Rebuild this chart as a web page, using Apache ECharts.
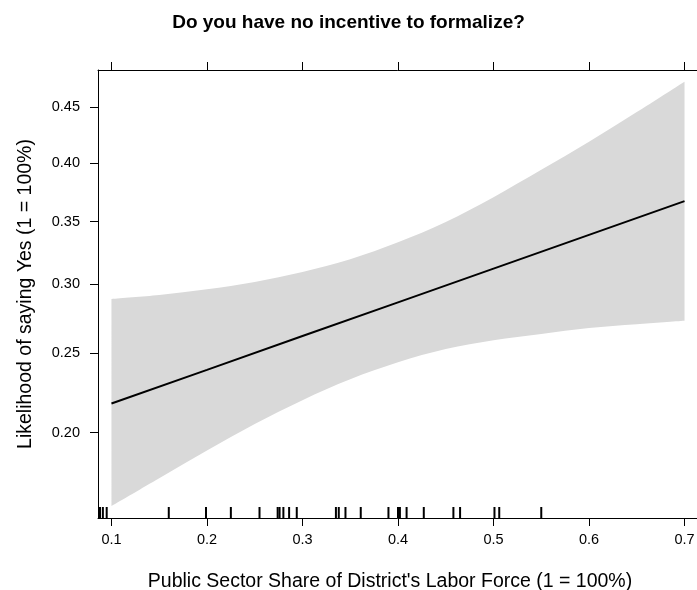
<!DOCTYPE html>
<html>
<head>
<meta charset="utf-8">
<script src="https://cdn.jsdelivr.net/npm/echarts@6/dist/echarts.min.js"></script>
<style>
  html, body { margin: 0; padding: 0; background: #fff; }
  #chart { width: 697px; height: 590px; }
</style>
</head>
<body>
<div id="chart"></div>
<script>
// Texts
const chartTitle = 'Do you have no incentive to formalize?';
const xAxisName = "Public Sector Share of District's Labor Force (1 = 100%)";
const yAxisName = 'Likelihood of saying Yes (1 = 100%)';

// Tick labels
const xTicks = [0.1, 0.2, 0.3, 0.4, 0.5, 0.6, 0.7];
const yTicks = [0.20, 0.25, 0.30, 0.35, 0.40, 0.45];

// Fitted probability
const fitShare = [0.1, 0.2, 0.3, 0.4, 0.5, 0.6, 0.7];
const fitProb = [0.2174, 0.2390, 0.2621, 0.2865, 0.3122, 0.3392, 0.3672];

// Confidence band
const bandShare = [0.10, 0.15, 0.20, 0.25, 0.30, 0.35, 0.40, 0.45, 0.50, 0.55, 0.60, 0.65, 0.70];
const bandUpper = [0.2889, 0.2919, 0.2963, 0.3019, 0.3096, 0.3196, 0.3332, 0.3498, 0.3706, 0.3941, 0.4187, 0.4452, 0.4727];
const bandLower = [0.1606, 0.1747, 0.1898, 0.2050, 0.2195, 0.2328, 0.2440, 0.2530, 0.2592, 0.2636, 0.2678, 0.2705, 0.2730];

// Observed district shares (rug)
const rugShare = [0.088, 0.091, 0.095, 0.160, 0.199, 0.225, 0.255, 0.274, 0.276, 0.280, 0.286, 0.294,
                  0.335, 0.338, 0.345, 0.361, 0.390, 0.400, 0.402, 0.409, 0.427, 0.458, 0.465,
                  0.501, 0.506, 0.550];

// Axis extents
const xRange = [0.0859, 0.7141];
const yRange = [0.1548, 0.4833];

// The probability axis is drawn on the logit scale
const logit = p => Math.log(p / (1 - p));
const invLogit = v => 1 / (1 + Math.exp(-v));

const font = '"Liberation Sans", Arial, Helvetica, sans-serif';
const black = '#000';

// Catmull-Rom curve through pixel points, as SVG path commands (without the initial move)
function curveThrough(pts) {
  let d = '';
  for (let i = 0; i < pts.length - 1; i++) {
    const p0 = pts[Math.max(i - 1, 0)];
    const p1 = pts[i];
    const p2 = pts[i + 1];
    const p3 = pts[Math.min(i + 2, pts.length - 1)];
    const c1x = p1[0] + (p2[0] - p0[0]) / 6, c1y = p1[1] + (p2[1] - p0[1]) / 6;
    const c2x = p2[0] - (p3[0] - p1[0]) / 6, c2y = p2[1] - (p3[1] - p1[1]) / 6;
    d += ' C' + c1x + ',' + c1y + ' ' + c2x + ',' + c2y + ' ' + p2[0] + ',' + p2[1];
  }
  return d;
}

const chart = echarts.init(document.getElementById('chart'), null, { renderer: 'canvas' });

const tickStyle = { show: true, inside: false, length: 8, lineStyle: { color: black, width: 1 } };

const option = {
  animation: false,
  backgroundColor: '#fff',
  title: {
    text: chartTitle,
    left: 'center',
    top: 8,
    textStyle: { fontFamily: font, fontSize: 19, fontWeight: 'bold', color: black }
  },
  grid: { left: 98, right: -1, top: 70, bottom: 72, outerBoundsMode: 'none', containLabel: false },
  xAxis: [
    {
      type: 'value',
      position: 'bottom',
      min: xRange[0],
      max: xRange[1],
      name: xAxisName,
      nameLocation: 'middle',
      nameGap: 54,
      nameTextStyle: { fontFamily: font, fontSize: 19.5, color: black, padding: [0, 16, 0, 0] },
      axisLine: { show: true, onZero: false, lineStyle: { color: black, width: 1 } },
      axisTick: Object.assign({}, tickStyle, { customValues: xTicks }),
      axisLabel: {
        customValues: xTicks,
        margin: 14,
        fontFamily: font,
        fontSize: 14.5,
        color: black,
        formatter: v => String(v)
      },
      splitLine: { show: false }
    },
    {
      type: 'value',
      position: 'top',
      min: xRange[0],
      max: xRange[1],
      axisLine: { show: true, onZero: false, lineStyle: { color: black, width: 1 } },
      axisTick: Object.assign({}, tickStyle, { customValues: xTicks }),
      axisLabel: { show: false },
      splitLine: { show: false }
    }
  ],
  yAxis: [
    {
      type: 'value',
      min: logit(yRange[0]),
      max: logit(yRange[1]),
      name: yAxisName,
      nameLocation: 'middle',
      nameRotate: 90,
      nameGap: 62,
      nameTextStyle: { fontFamily: font, fontSize: 19.5, color: black },
      axisLine: { show: true, onZero: false, lineStyle: { color: black, width: 1 } },
      axisTick: Object.assign({}, tickStyle, { customValues: yTicks.map(logit) }),
      axisLabel: {
        customValues: yTicks.map(logit),
        margin: 18,
        fontFamily: font,
        fontSize: 14.5,
        color: black,
        formatter: v => invLogit(v).toFixed(2)
      },
      splitLine: { show: false }
    }
  ],
  series: [
    {
      // confidence band: upper edge left to right, lower edge back
      type: 'custom',
      silent: true,
      data: bandShare.map((x, i) => [x, logit(bandLower[i]), logit(bandUpper[i])]),
      encode: { x: 0, y: [1, 2] },
      renderItem: (params, api) => {
        if (params.dataIndex !== 0) return null;
        const up = bandShare.map((x, i) => api.coord([x, logit(bandUpper[i])]));
        const lo = bandShare.map((x, i) => api.coord([x, logit(bandLower[i])])).reverse();
        const d = 'M' + up[0][0] + ',' + up[0][1] + curveThrough(up) +
                  ' L' + lo[0][0] + ',' + lo[0][1] + curveThrough(lo) + ' Z';
        return { type: 'path', shape: { pathData: d }, style: { fill: '#d9d9d9' } };
      },
      z: 1
    },
    {
      type: 'line',
      symbol: 'none',
      silent: true,
      lineStyle: { color: black, width: 2 },
      data: fitShare.map((x, i) => [x, logit(fitProb[i])]),
      z: 3
    },
    {
      // rug of observed values along the bottom edge
      type: 'custom',
      silent: true,
      data: rugShare.map(x => [x, logit(yRange[0])]),
      renderItem: (params, api) => {
        const c = api.coord([api.value(0), api.value(1)]);
        return {
          type: 'line',
          shape: { x1: c[0], y1: c[1], x2: c[0], y2: c[1] - 11 },
          style: { stroke: black, lineWidth: 2 }
        };
      },
      z: 4
    }
  ]
};

chart.setOption(option);
</script>
</body>
</html>
